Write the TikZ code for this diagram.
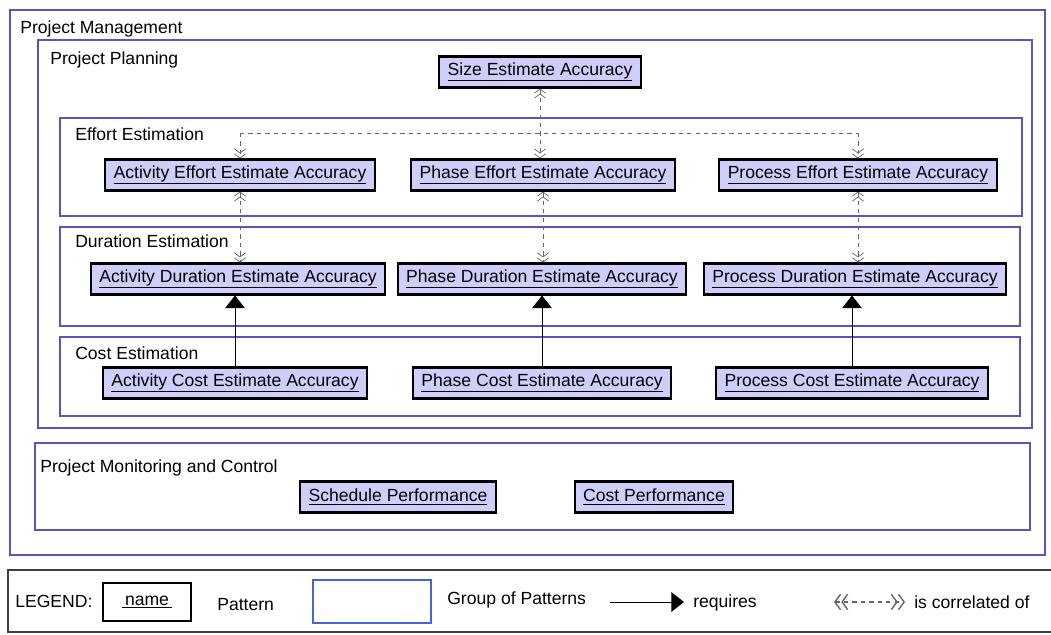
\documentclass[tikz,border=0pt]{standalone}
\usepackage{fontspec}
\setmainfont{Liberation Sans}
\usetikzlibrary{arrows.meta}
\definecolor{groupblue}{RGB}{88,84,196}
\definecolor{legendblue}{RGB}{70,100,220}
\definecolor{patfill}{RGB}{206,206,250}
\tikzset{
	patbox/.style={draw=black, line width=1.5pt, fill=patfill, minimum height=22pt, inner xsep=6pt, font=\fontsize{12.5}{14}\selectfont},
	group/.style={draw=groupblue, line width=1.3pt},
	grouplabel/.style={anchor=north west, inner sep=0pt, font=\fontsize{12.5}{14}\selectfont},
	plain/.style={inner sep=0pt, font=\fontsize{12.5}{14}\selectfont},
	dbl/.tip={Straight Barb[length=3pt,width=8pt] Straight Barb[length=3pt,width=8pt]},
	bigdbl/.tip={Straight Barb[length=4pt,width=11pt,line width=1pt] Straight Barb[length=4pt,width=11pt,line width=1pt]},
	correl/.style={dashed, line width=0.5pt, draw=black!60},
	requires/.style={-{Triangle[length=9pt,width=14pt]}, line width=0.6pt},
}
\begin{document}
\begin{tikzpicture}[x=0.025cm, y=-0.025cm]
			\useasboundingbox (0,0) rectangle (1051,635);
			% groups
			\draw[group] (10,10) rectangle (1045,555);
			\node[grouplabel] (pmlab) at (20,20) {Project Management};
			\draw[group] (38,40) rectangle (1032,428);
			\node[grouplabel] (pplab) at (50,51) {Project Planning};
			\draw[group] (60,118) rectangle (1022,216);
			\node[grouplabel] (eelab) at (75,127) {Effort Estimation};
			\draw[group] (60,227) rectangle (1020,326);
			\node[grouplabel] (delab) at (75,234) {Duration Estimation};
			\draw[group] (60,337) rectangle (1020,416);
			\node[grouplabel] (celab) at (75,346) {Cost Estimation};
			\draw[group] (35,443) rectangle (1030,530);
			\node[grouplabel] (pmclab) at (40,459) {Project Monitoring and Control};
			% patterns
			\node[patbox] (size) at (540,72) {\underline{Size Estimate Accuracy}};
			\node[patbox] (ae) at (240,175) {\underline{Activity Effort Estimate Accuracy}};
			\node[patbox] (pe) at (543,175) {\underline{Phase Effort Estimate Accuracy}};
			\node[patbox] (pre) at (858,175) {\underline{Process Effort Estimate Accuracy}};
			\node[patbox] (ad) at (238,279) {\underline{Activity Duration Estimate Accuracy}};
			\node[patbox] (pd) at (542,279) {\underline{Phase Duration Estimate Accuracy}};
			\node[patbox] (prd) at (855,279) {\underline{Process Duration Estimate Accuracy}};
			\node[patbox] (ac) at (235,383) {\underline{Activity Cost Estimate Accuracy}};
			\node[patbox] (pc) at (542,383) {\underline{Phase Cost Estimate Accuracy}};
			\node[patbox] (prc) at (852,383) {\underline{Process Cost Estimate Accuracy}};
			\node[patbox] (sp) at (398,497) {\underline{Schedule Performance}};
			\node[patbox] (cp) at (654,497) {\underline{Cost Performance}};
			% correlated of
			\coordinate (busl) at (240,133);
			\coordinate (busr) at (858,133);
			\draw[correl] (busl) -- (busr);
			\draw[correl, -{dbl}] (busl) -- (ae.north);
			\draw[correl, -{dbl}] (busr) -- (pre.north);
			\draw[correl, {dbl}-{dbl}] (size.south) -- (size.south |- pe.north);
			\draw[correl, {dbl}-{dbl}] (ae.south) -- (ae.south |- ad.north);
			\draw[correl, {dbl}-{dbl}] (pe.south) -- (pe.south |- pd.north);
			\draw[correl, {dbl}-{dbl}] (pre.south) -- (pre.south |- prd.north);
			% requires
			\draw[requires] (ac.north) -- (ac.north |- ad.south);
			\draw[requires] (pc.north) -- (pc.north |- pd.south);
			\draw[requires] (prc.north) -- (prc.north |- prd.south);
			% legend
			\draw[line width=1pt, draw=black!75] (8,570) rectangle (1053,632);
			\node[plain, anchor=west] (leg) at (15,601) {LEGEND:};
			\node[patbox, fill=white, minimum width=62pt, minimum height=27pt] (legpat) at (147,602) {\underline{\,name\,}};
			\node[plain, anchor=west] (legpatlab) at (217,605) {Pattern};
			\draw[draw=legendblue, line width=1.5pt] (313,580) rectangle (431,623);
			\node[plain, anchor=west] (leggrouplab) at (447,600) {Group of Patterns};
			\coordinate (reqa) at (610,602);
			\coordinate (reqb) at (684,602);
			\draw[requires] (reqa) -- (reqb);
			\node[plain, anchor=west] (legreq) at (693,603) {requires};
			\coordinate (cora) at (834,602);
			\coordinate (corb) at (905,602);
			\draw[correl, line width=0.8pt, {bigdbl}-{bigdbl}] (cora) -- (corb);
			\node[plain, anchor=west] (legcor) at (914,602) {is correlated of};
			\end{tikzpicture}
\end{document}
